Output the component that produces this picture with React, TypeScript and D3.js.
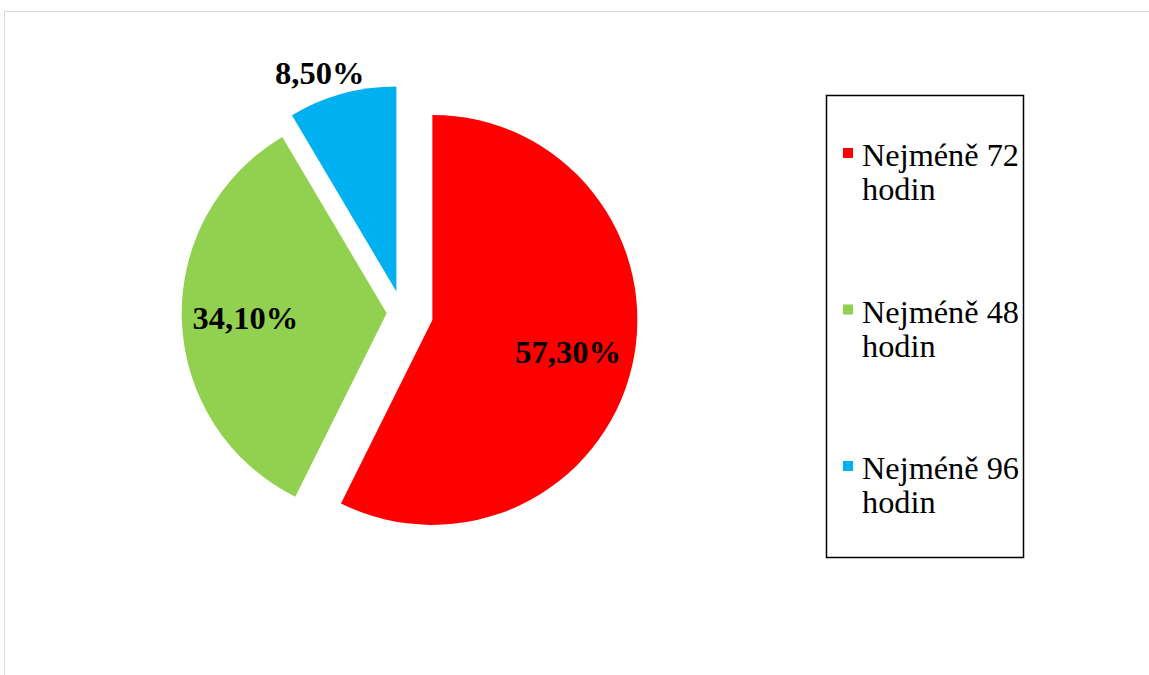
import React from "react";
import * as d3 from "d3";

const categories = ["Nejméně 72 hodin", "Nejméně 48 hodin", "Nejméně 96 hodin"];
const values = [57.3, 34.1, 8.5];
const labels = ["57,30%", "34,10%", "8,50%"];
const legendLines = [["Nejméně 72", "hodin"], ["Nejméně 48", "hodin"], ["Nejméně 96", "hodin"]];
const colors = ["#FF0000", "#92D050", "#00B0F0"];
const explode = [31, 15.5, 22];
const labelRadiusFactor = [0.68, 0.69, 1.13];
const labelAngleShift = [0, 0, -4];

const W = 1149;
const H = 675;
const cx = 402.2;
const cy = 312.8;
const R = 205;

export default function App() {
  const pie = d3.pie<number>().sort(null).value((d) => d).startAngle(0).endAngle(2 * Math.PI);
  const arcs = pie(values);
  const arc = d3.arc<d3.PieArcDatum<number>>().innerRadius(0).outerRadius(R);
  const font = "'Liberation Serif', 'Times New Roman', serif";

  const legendX = 826.5;
  const legendY = 95.5;
  const legendW = 197;
  const legendH = 462;
  const rowStart = 166;
  const rowStep = 156.5;
  const lineStep = 34;

  return (
    <svg
      width={W}
      height={H}
      style={{ position: "absolute", left: 0, top: 0, background: "#fff" }}
    >
      <rect x={4.5} y={11.5} width={W + 20} height={H + 20} fill="#fff" stroke="#d9d9d9" strokeWidth={1} />
      {arcs.map((a, i) => {
        const mid = (a.startAngle + a.endAngle) / 2;
        const dx = Math.sin(mid) * explode[i];
        const dy = -Math.cos(mid) * explode[i];
        const la = mid + (labelAngleShift[i] * Math.PI) / 180;
        const lr = R * labelRadiusFactor[i];
        const lx = Math.sin(la) * lr;
        const ly = -Math.cos(la) * lr;
        return (
          <g key={i} transform={`translate(${cx + dx},${cy + dy})`}>
            <path d={arc(a) || ""} fill={colors[i]} />
            <text
              x={lx}
              y={ly}
              textAnchor="middle"
              dominantBaseline="central"
              fontFamily={font}
              fontWeight="bold"
              fontSize={32.5}
              fill="#000"
            >
              {labels[i]}
            </text>
          </g>
        );
      })}
      <rect x={legendX} y={legendY} width={legendW} height={legendH} fill="none" stroke="#000" strokeWidth={1.5} />
      {categories.map((c, i) => {
        const base = rowStart + i * rowStep;
        return (
          <g key={c}>
            <rect x={843} y={base - 18} width={10} height={10} fill={colors[i]} />
            {legendLines[i].map((t, j) => (
              <text key={j} x={862} y={base + j * lineStep} fontFamily={font} fontSize={32.3} fill="#000">
                {t}
              </text>
            ))}
          </g>
        );
      })}
    </svg>
  );
}
